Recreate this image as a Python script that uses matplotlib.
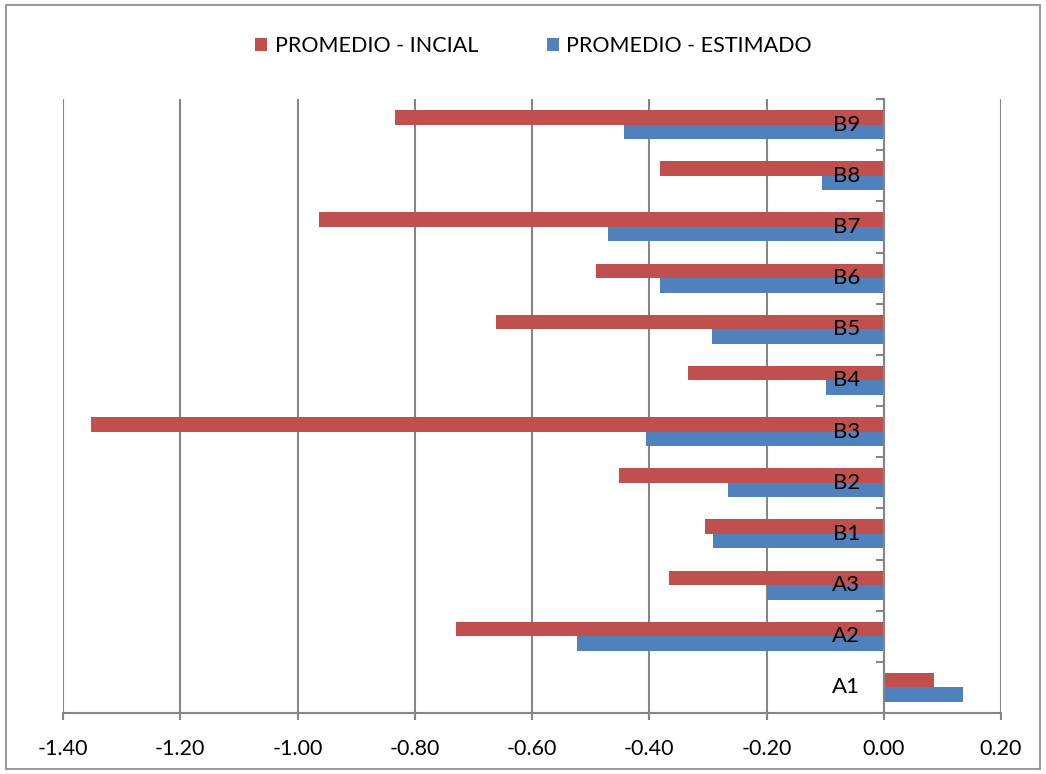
import matplotlib
matplotlib.use('Agg')

import matplotlib.pyplot as plt
from matplotlib.patches import Rectangle
import numpy as np


categories = ["A1", "A2", "A3", "B1", "B2", "B3", "B4", "B5", "B6", "B7", "B8", "B9"]
inicial = [0.085, -0.730, -0.367, -0.305, -0.452, -1.353, -0.334, -0.662, -0.491, -0.964, -0.382, -0.834]
estimado = [0.135, -0.524, -0.200, -0.292, -0.266, -0.406, -0.099, -0.293, -0.382, -0.471, -0.106, -0.443]
xticks = [-1.4, -1.2, -1.0, -0.8, -0.6, -0.4, -0.2, 0.0, 0.2]

RED = '#C0504D'
BLUE = '#4F81BD'
GRID = '#868686'

plt.rcParams['font.family'] = ['Lato', 'DejaVu Sans']

fig = plt.figure(figsize=(10.46, 7.74), dpi=100)
ax = fig.add_axes([63 / 1046, 61 / 774, 938 / 1046, 614 / 774])

y = np.arange(len(categories))
h = 0.285
ax.barh(y + h / 2, inicial, height=h, color=RED, label="PROMEDIO - INCIAL", zorder=3)
ax.barh(y - h / 2, estimado, height=h, color=BLUE, label="PROMEDIO - ESTIMADO", zorder=3)

ax.set_xlim(-1.4, 0.2)
ax.set_ylim(-0.5, len(categories) - 0.5)
ax.set_xticks(xticks)
ax.set_xticklabels(["%.2f" % v for v in xticks], fontsize=15.5)
ax.tick_params(axis='x', direction='out', length=5, width=1.5, color=GRID, pad=14)
ax.grid(axis='x', color=GRID, linewidth=1.5, zorder=0)

# category axis sits at x = 0
ax.spines['left'].set_position(('data', 0))
ax.spines['left'].set_color(GRID)
ax.spines['left'].set_linewidth(1.5)
ax.spines['left'].set_zorder(4)
ax.spines['bottom'].set_color(GRID)
ax.spines['bottom'].set_linewidth(1.5)
ax.spines['top'].set_visible(False)
ax.spines['right'].set_visible(False)

ax.set_yticks(np.arange(len(categories) + 1) - 0.5)
ax.set_yticklabels([])
ax.tick_params(axis='y', which='major', direction='out', length=6, width=1.5, color=GRID)

# category labels drawn on top of the bars
for yi, cat in zip(y, categories):
    ax.annotate(cat, xy=(0, yi), xytext=(-17, 0), textcoords='offset points',
                ha='right', va='center', fontsize=16, zorder=6)

fig.legend(loc='center', bbox_to_anchor=(0.510, 0.94), ncol=2, frameon=False,
           fontsize=15.5, handlelength=0.55, handleheight=0.55, handletextpad=0.35,
           columnspacing=3.2)

fig.patches.append(Rectangle((0.006, 0.006), 0.988, 0.988, transform=fig.transFigure,
                             fill=False, edgecolor=GRID, linewidth=1.2))

plt.savefig("out.png", dpi=100)
